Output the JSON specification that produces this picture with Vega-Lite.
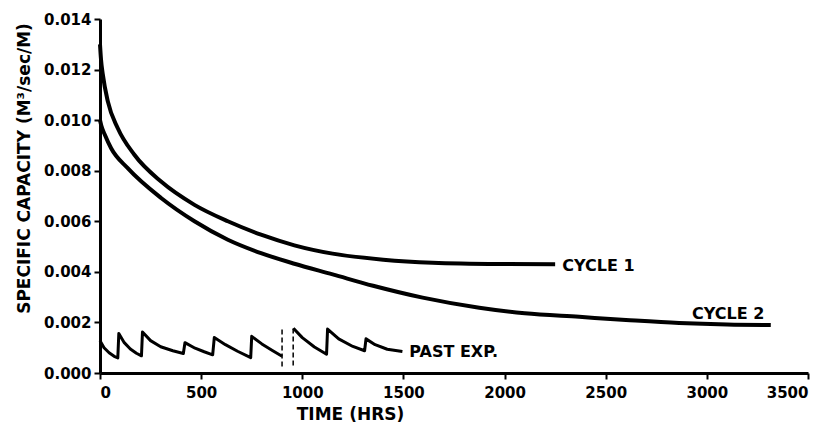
{
  "$schema": "https://vega.github.io/schema/vega-lite/v6.json",
  "width": 708,
  "height": 354,
  "autosize": {"type": "none"},
  "padding": {"left": 100, "top": 19, "right": 22, "bottom": 57},
  "background": "white",
  "config": {
    "view": {"stroke": null},
    "axis": {
      "grid": false,
      "domainColor": "black",
      "domainWidth": 3,
      "tickColor": "black",
      "tickWidth": 2,
      "tickSize": 6,
      "labelFont": "DejaVu Sans",
      "labelFontWeight": "bold",
      "labelFontSize": 15,
      "labelColor": "black",
      "titleFont": "DejaVu Sans",
      "titleFontWeight": "bold",
      "titleFontSize": 17,
      "titleColor": "black"
    }
  },
  "datasets": {
    "cycles": [
      {"series": "Cycle 1", "t": 0, "v": 0.0130},
      {"series": "Cycle 1", "t": 5, "v": 0.0124},
      {"series": "Cycle 1", "t": 14, "v": 0.0118},
      {"series": "Cycle 1", "t": 39, "v": 0.01073},
      {"series": "Cycle 1", "t": 88, "v": 0.00968},
      {"series": "Cycle 1", "t": 170, "v": 0.00863},
      {"series": "Cycle 1", "t": 302, "v": 0.00757},
      {"series": "Cycle 1", "t": 467, "v": 0.00665},
      {"series": "Cycle 1", "t": 632, "v": 0.0060},
      {"series": "Cycle 1", "t": 796, "v": 0.00547},
      {"series": "Cycle 1", "t": 961, "v": 0.00505},
      {"series": "Cycle 1", "t": 1150, "v": 0.00472},
      {"series": "Cycle 1", "t": 1400, "v": 0.00448},
      {"series": "Cycle 1", "t": 1644, "v": 0.00436},
      {"series": "Cycle 1", "t": 1974, "v": 0.00431},
      {"series": "Cycle 1", "t": 2250, "v": 0.0043},
      {"series": "Cycle 2", "t": 0, "v": 0.0100},
      {"series": "Cycle 2", "t": 6, "v": 0.0098},
      {"series": "Cycle 2", "t": 25, "v": 0.0094},
      {"series": "Cycle 2", "t": 55, "v": 0.00889},
      {"series": "Cycle 2", "t": 137, "v": 0.0081},
      {"series": "Cycle 2", "t": 302, "v": 0.00692},
      {"series": "Cycle 2", "t": 467, "v": 0.0060},
      {"series": "Cycle 2", "t": 632, "v": 0.00527},
      {"series": "Cycle 2", "t": 796, "v": 0.00474},
      {"series": "Cycle 2", "t": 961, "v": 0.00432},
      {"series": "Cycle 2", "t": 1150, "v": 0.0039},
      {"series": "Cycle 2", "t": 1350, "v": 0.00345},
      {"series": "Cycle 2", "t": 1595, "v": 0.00298},
      {"series": "Cycle 2", "t": 1875, "v": 0.00258},
      {"series": "Cycle 2", "t": 2100, "v": 0.00236},
      {"series": "Cycle 2", "t": 2369, "v": 0.00222},
      {"series": "Cycle 2", "t": 2600, "v": 0.0021},
      {"series": "Cycle 2", "t": 2863, "v": 0.00198},
      {"series": "Cycle 2", "t": 3100, "v": 0.00192},
      {"series": "Cycle 2", "t": 3316, "v": 0.0019}
    ],
    "past": [
      {"seg": "a", "t": 0, "v": 0.00128},
      {"seg": "a", "t": 20, "v": 0.00100},
      {"seg": "a", "t": 45, "v": 0.00080},
      {"seg": "a", "t": 70, "v": 0.00066},
      {"seg": "a", "t": 88, "v": 0.00060},
      {"seg": "a", "t": 93, "v": 0.00156},
      {"seg": "a", "t": 120, "v": 0.00120},
      {"seg": "a", "t": 150, "v": 0.00095},
      {"seg": "a", "t": 180, "v": 0.00078},
      {"seg": "a", "t": 205, "v": 0.00068},
      {"seg": "a", "t": 210, "v": 0.00162},
      {"seg": "a", "t": 250, "v": 0.00128},
      {"seg": "a", "t": 300, "v": 0.00104},
      {"seg": "a", "t": 360, "v": 0.00088},
      {"seg": "a", "t": 412, "v": 0.00077},
      {"seg": "a", "t": 420, "v": 0.00120},
      {"seg": "a", "t": 470, "v": 0.00098},
      {"seg": "a", "t": 515, "v": 0.00084},
      {"seg": "a", "t": 557, "v": 0.00072},
      {"seg": "a", "t": 565, "v": 0.00140},
      {"seg": "a", "t": 620, "v": 0.00112},
      {"seg": "a", "t": 680, "v": 0.00086},
      {"seg": "a", "t": 745, "v": 0.00061},
      {"seg": "a", "t": 750, "v": 0.00145},
      {"seg": "a", "t": 800, "v": 0.00115},
      {"seg": "a", "t": 850, "v": 0.00090},
      {"seg": "a", "t": 900, "v": 0.00066},
      {"seg": "b", "t": 956, "v": 0.00177},
      {"seg": "b", "t": 1000, "v": 0.00140},
      {"seg": "b", "t": 1060, "v": 0.00103},
      {"seg": "b", "t": 1120, "v": 0.00074},
      {"seg": "b", "t": 1125, "v": 0.00174},
      {"seg": "b", "t": 1180, "v": 0.00135},
      {"seg": "b", "t": 1250, "v": 0.00105},
      {"seg": "b", "t": 1308, "v": 0.00088},
      {"seg": "b", "t": 1315, "v": 0.00135},
      {"seg": "b", "t": 1360, "v": 0.00112},
      {"seg": "b", "t": 1420, "v": 0.00094},
      {"seg": "b", "t": 1495, "v": 0.00085}
    ],
    "breaks": [
      {"t": 900, "v": 0.00026, "v2": 0.00184},
      {"t": 955, "v": 0.00030, "v2": 0.00184}
    ],
    "labels": [
      {"t": 2285, "v": 0.00424, "label": "CYCLE 1"},
      {"t": 2927, "v": 0.00232, "label": "CYCLE 2"},
      {"t": 1529, "v": 0.00084, "label": "PAST EXP."}
    ]
  },
  "encoding": {
    "x": {
      "field": "t",
      "type": "quantitative",
      "scale": {"domain": [0, 3500], "nice": false, "zero": true},
      "axis": {
        "title": "TIME (HRS)",
        "values": [0, 500, 1000, 1500, 2000, 2500, 3000, 3500],
        "format": "d",
        "labelPadding": 6,
        "titlePadding": 6,
        "titleX": 250,
        "titleAlign": "center"
      }
    },
    "y": {
      "field": "v",
      "type": "quantitative",
      "scale": {"domain": [0, 0.014], "nice": false},
      "axis": {
        "title": "SPECIFIC CAPACITY (M³/sec/M)",
        "values": [0, 0.002, 0.004, 0.006, 0.008, 0.01, 0.012, 0.014],
        "format": ".3f",
        "labelPadding": 3,
        "titlePadding": 10,
        "titleY": 149,
        "titleAlign": "center"
      }
    }
  },
  "layer": [
    {
      "data": {"name": "cycles"},
      "mark": {"type": "line", "color": "black", "strokeWidth": 4, "interpolate": "monotone"},
      "encoding": {"detail": {"field": "series"}}
    },
    {
      "data": {"name": "past"},
      "mark": {"type": "line", "color": "black", "strokeWidth": 3, "interpolate": "linear", "strokeJoin": "round"},
      "encoding": {"detail": {"field": "seg"}}
    },
    {
      "data": {"name": "breaks"},
      "mark": {"type": "rule", "color": "black", "strokeWidth": 1.5, "strokeDash": [5, 3]},
      "encoding": {"y2": {"field": "v2"}}
    },
    {
      "data": {"name": "labels"},
      "mark": {"type": "text", "color": "black", "font": "DejaVu Sans", "fontWeight": "bold", "fontSize": 16, "align": "left", "baseline": "middle"},
      "encoding": {"text": {"field": "label"}}
    }
  ]
}
